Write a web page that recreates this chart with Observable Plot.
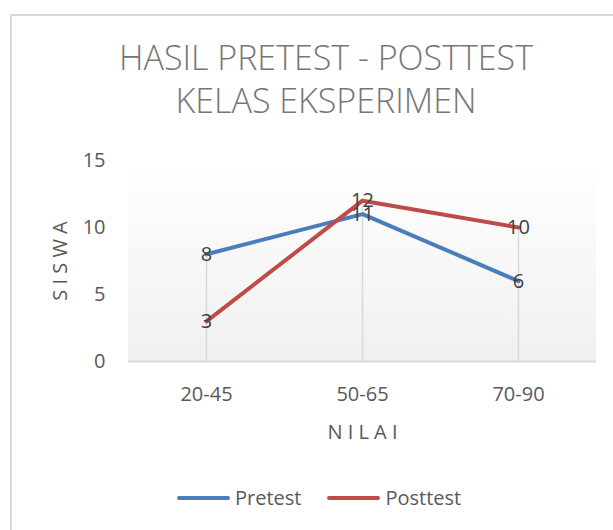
<!DOCTYPE html>
<html>
<head>
<meta charset="utf-8">
<script src="https://cdn.jsdelivr.net/npm/d3@7"></script>
<script src="https://cdn.jsdelivr.net/npm/@observablehq/plot@0.6"></script>
<style>
  html, body { margin: 0; padding: 0; background: #ffffff; }
  #wrap { position: relative; width: 613px; height: 530px; overflow: hidden; background: #fff; font-family: "Open Sans", sans-serif; }
  #border { position: absolute; left: 10px; top: 14px; width: 700px; height: 600px; border-left: 2px solid #d9d9d9; border-top: 2px solid #d9d9d9; box-sizing: border-box; }
  #title { position: absolute; left: 326px; top: 36px; transform: translateX(-50%); white-space: nowrap; text-align: center; font-size: 34px; line-height: 43px; font-weight: 300; color: #767676; }
  #chart { position: absolute; left: 0; top: 130px; }
  #legend { position: absolute; left: 177px; top: 484px; display: flex; align-items: center; font-size: 20px; color: #595959; white-space: nowrap; }
  .sw { display: inline-block; width: 53px; height: 4px; border-radius: 2px; margin-right: 5px; }
  .item { display: flex; align-items: center; margin-right: 26px; }
</style>
</head>
<body>
<div id="wrap">
  <div id="border"></div>
  <div id="title"></div>
  <div id="chart"></div>
  <div id="legend"></div>
</div>
<script>
const titleLines = ["HASIL PRETEST - POSTTEST", "KELAS EKSPERIMEN"];
const categories = ["20-45", "50-65", "70-90"];
const seriesNames = ["Pretest", "Posttest"];
const pretest = [8, 11, 6];
const posttest = [3, 12, 10];
const seriesColors = ["#4a7ebb", "#be4b48"];
const yTicks = [0, 5, 10, 15];
const xTitle = "N I L A I";
const yTitle = "S I S W A";

document.getElementById("title").innerHTML = titleLines.join("<br>");

const rows = [];
categories.forEach((c, i) => {
  rows.push({cat: c, series: seriesNames[0], value: pretest[i]});
  rows.push({cat: c, series: seriesNames[1], value: posttest[i]});
});
const drops = categories.map((c, i) => ({cat: c, top: Math.max(pretest[i], posttest[i])}));

const gradientMark = (index, scales, values, dims) => {
  const {width, height, marginLeft, marginRight, marginTop, marginBottom} = dims;
  const g = d3.create("svg:g");
  const grad = g.append("defs").append("linearGradient")
    .attr("id", "plotAreaGrad").attr("x1", 0).attr("y1", 0).attr("x2", 0).attr("y2", 1);
  grad.append("stop").attr("offset", "0%").attr("stop-color", "#ffffff");
  grad.append("stop").attr("offset", "100%").attr("stop-color", "#f0f0f0");
  g.append("rect")
    .attr("x", marginLeft).attr("y", marginTop)
    .attr("width", width - marginLeft - marginRight)
    .attr("height", height - marginTop - marginBottom)
    .attr("fill", "url(#plotAreaGrad)");
  return g.node();
};

const chart = Plot.plot({
  width: 613,
  height: 330,
  marginLeft: 128,
  marginRight: 17,
  marginTop: 30,
  marginBottom: 99,
  style: {fontFamily: "'Open Sans', sans-serif", fontSize: "20px", color: "#595959", background: "transparent"},
  x: {type: "point", domain: categories, padding: 0.5, tickSize: 0, tickPadding: 25, label: null},
  y: {domain: [0, 15], ticks: yTicks, tickSize: 0, tickPadding: 23, label: null},
  color: {domain: seriesNames, range: seriesColors},
  marks: [
    gradientMark,
    Plot.ruleX(drops, {x: "cat", y1: 0, y2: "top", stroke: "#d9d9d9", strokeWidth: 1.5}),
    Plot.ruleY([0], {stroke: "#d9d9d9", strokeWidth: 2}),
    Plot.line(rows, {x: "cat", y: "value", z: "series", stroke: "series", strokeWidth: 4, strokeLinejoin: "round", strokeLinecap: "round"}),
    Plot.text(rows, {x: "cat", y: "value", text: d => String(d.value), fill: "#404040", fontSize: 20, lineAnchor: "middle"}),
    Plot.text([xTitle], {frameAnchor: "bottom", dy: 71, lineAnchor: "middle", textAnchor: "middle", fill: "#595959", fontSize: 20}),
    Plot.text([yTitle], {frameAnchor: "left", dx: -68, rotate: -90, lineAnchor: "middle", textAnchor: "middle", fill: "#595959", fontSize: 20})
  ]
});
document.getElementById("chart").appendChild(chart);

const legend = document.getElementById("legend");
seriesNames.forEach((name, i) => {
  const item = document.createElement("span");
  item.className = "item";
  const sw = document.createElement("span");
  sw.className = "sw";
  sw.style.background = seriesColors[i];
  item.appendChild(sw);
  item.appendChild(document.createTextNode(name));
  legend.appendChild(item);
});
</script>
</body>
</html>
